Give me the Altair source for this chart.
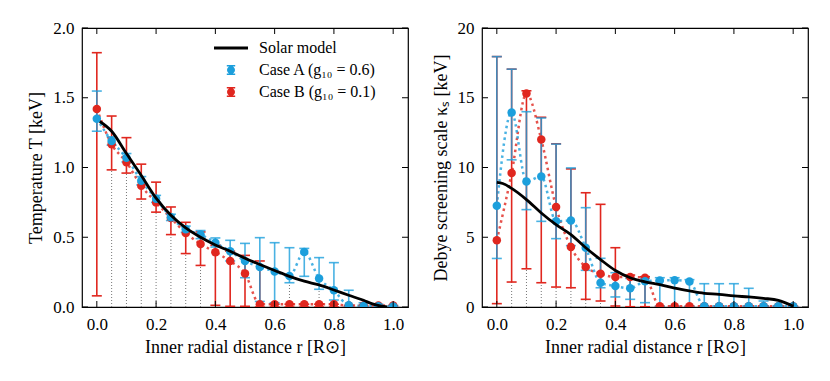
import altair as alt
import pandas as pd

# ---------------- data ----------------
r = [0.0, 0.05, 0.1, 0.15, 0.2, 0.25, 0.3, 0.35, 0.4, 0.45, 0.5,
     0.55, 0.6, 0.65, 0.7, 0.75, 0.8, 0.85, 0.9, 0.95, 1.0]

# Left panel: temperature T [keV]
A_T = [1.35, 1.19, 1.07, 0.905, 0.776, 0.643, 0.557, 0.52, 0.46, 0.40, 0.33,
       0.287, 0.255, 0.222, 0.394, 0.205, 0.12, 0.012, 0.007, 0.005, 0.003]
A_T_hi = [1.548, 1.22, 1.10, 0.935, 0.80, 0.665, 0.58, 0.548, 0.495, 0.478, 0.456,
          0.497, 0.461, 0.425, 0.42, 0.354, 0.318, 0.12, 0.03, 0.02, 0.01]
A_T_lo = [1.26, 1.16, 1.04, 0.875, 0.75, 0.62, 0.535, 0.49, 0.43, 0.33, 0.21,
          0.04, 0.03, 0.174, 0.22, 0.127, 0.05, 0.0, 0.0, 0.0, 0.0]
B_T = [1.42, 1.167, 1.038, 0.869, 0.75, 0.638, 0.531, 0.452, 0.393, 0.329, 0.24,
       0.02, 0.02, 0.02, 0.02, 0.02, 0.02, 0.01, 0.01, 0.01, 0.01]
B_T_hi = [1.823, 1.369, 1.214, 1.024, 0.895, 0.717, 0.607, 0.538, 0.443, 0.40, 0.37,
          0.33, 0.02, 0.02, 0.02, 0.02, 0.02, 0.01, 0.01, 0.01, 0.01]
B_T_lo = [0.08, 0.983, 0.96, 0.774, 0.68, 0.519, 0.383, 0.298, 0.012, 0.005, 0.005,
          0.0, 0.0, 0.0, 0.0, 0.0, 0.0, 0.0, 0.0, 0.0, 0.0]
sm_r_T = [0.01, 0.05, 0.1, 0.15, 0.2, 0.25, 0.3, 0.35, 0.4, 0.45, 0.5, 0.55,
          0.6, 0.65, 0.7, 0.75, 0.8, 0.85, 0.9, 0.93, 0.96, 0.98]
sm_T = [1.33, 1.26, 1.10, 0.943, 0.78, 0.657, 0.567, 0.50, 0.445, 0.40, 0.35, 0.305,
        0.262, 0.22, 0.185, 0.158, 0.122, 0.084, 0.048, 0.022, 0.006, 0.001]
dot_r_T = [0.05, 0.1, 0.15, 0.2, 0.25, 0.3, 0.35, 0.65, 0.75]
dot_top_T = [0.983, 0.96, 0.774, 0.68, 0.519, 0.383, 0.298, 0.174, 0.127]

# Right panel: Debye screening scale kappa_s [keV]
A_K = [7.26, 13.95, 9.0, 9.36, 6.14, 6.2, 4.25, 1.74, 1.5, 1.34, 1.84,
       1.9, 1.92, 1.82, 0.05, 0.05, 0.05, 0.05, 0.05, 0.05, 0.05]
A_K_hi = [17.95, 17.05, 14.0, 13.55, 11.68, 9.97, 7.12, 3.49, 2.46, 2.05, 2.05,
          2.1, 2.1, 1.96, 1.67, 1.67, 1.67, 1.34, 0.43, 0.1, 0.05]
A_K_lo = [3.48, 10.55, 6.98, 6.14, 4.9, 4.4, 2.63, 1.38, 0.72, 0.55, 0.31,
          0.05, 0.05, 0.05, 0.0, 0.0, 0.0, 0.0, 0.0, 0.0, 0.0]
B_K = [4.79, 9.6, 15.3, 12.0, 7.17, 4.3, 2.87, 2.39, 2.15, 2.15, 2.1,
       0.05, 0.05, 0.05, 0.05, 0.05, 0.05, 0.05, 0.05, 0.05, 0.05]
B_K_hi = [17.95, 17.05, 15.5, 13.6, 11.7, 9.9, 8.19, 7.36, 4.25, 2.29, 2.17,
          0.05, 0.05, 0.05, 0.05, 0.05, 0.05, 0.05, 0.05, 0.05, 0.05]
B_K_lo = [0.24, 1.79, 2.74, 1.74, 1.43, 1.38, 0.55, 0.43, 0.07, 0.02, 0.02,
          0.0, 0.0, 0.0, 0.0, 0.0, 0.0, 0.0, 0.0, 0.0, 0.0]
sm_r_K = [0.0, 0.02, 0.05, 0.1, 0.15, 0.2, 0.25, 0.3, 0.35, 0.4, 0.45, 0.5, 0.55,
          0.6, 0.65, 0.7, 0.75, 0.8, 0.85, 0.9, 0.95, 0.98, 1.0]
sm_K = [8.93, 8.85, 8.5, 7.7, 6.74, 5.9, 5.19, 4.25, 3.4, 2.62, 2.1, 1.8, 1.6,
        1.35, 1.15, 0.98, 0.91, 0.79, 0.72, 0.62, 0.48, 0.24, 0.05]
dot_r_K = [0.05, 0.1, 0.15, 0.2, 0.25, 0.3, 0.35]
dot_top_K = [1.79, 2.74, 1.74, 1.43, 1.38, 0.55, 0.43]

names = ["Solar model", "Case A (g₁₀ = 0.6)", "Case B (g₁₀ = 0.1)"]
x_ticks = [0.0, 0.2, 0.4, 0.6, 0.8, 1.0]
T_ticks = [0.0, 0.5, 1.0, 1.5, 2.0]
K_ticks = [0, 5, 10, 15, 20]

# ---------------- style ----------------
BLUE = "#1c9fdc"
RED = "#e0271f"
FONT = "Liberation Serif"
W, H = 326, 279
TICK = 6

LINE_PATH = "M-1.7,-0.15H1.7V0.15H-1.7Z"
ERR_PATH = ("M-0.075,-0.5H0.075V0.5H-0.075Z "
            "M-0.42,-0.5H0.42V-0.35H-0.42Z "
            "M-0.42,0.35H0.42V0.5H-0.42Z "
            "M0.4,0A0.4,0.4,0,1,1,-0.4,0A0.4,0.4,0,1,1,0.4,0Z")


def panel(A, A_lo, A_hi, B, B_lo, B_hi, sm_r, sm_v, dot_r, dot_top,
          ydom, yticks, yfmt, ytitle, with_legend):
    xs = alt.Scale(domain=[-0.05, 1.05], nice=False, zero=False)
    ys = alt.Scale(domain=ydom, nice=False, zero=False)
    xaxis = alt.Axis(values=x_ticks, format=".1f", labelPadding=9, titlePadding=6,
                     title="Inner radial distance r [R⊙]")
    yaxis = alt.Axis(values=yticks, format=yfmt, labelPadding=8, titlePadding=7,
                     title=ytitle)

    def X(f):
        return alt.X(f, type="quantitative", scale=xs, axis=xaxis)

    def Y(f):
        return alt.Y(f, type="quantitative", scale=ys, axis=yaxis)

    dfA = pd.DataFrame({"r": r, "v": A, "lo": A_lo, "hi": A_hi})
    dfB = pd.DataFrame({"r": r, "v": B, "lo": B_lo, "hi": B_hi})
    dfB["col"] = RED
    dfA["col"] = BLUE
    dfB["case"] = names[2]
    dfA["case"] = names[1]
    pts = pd.concat([dfB, dfA], ignore_index=True)
    dfsm = pd.DataFrame({"r": sm_r, "v": sm_v})
    dfdot = pd.DataFrame({"r": dot_r, "top": dot_top, "z": [0.0] * len(dot_r)})
    dfxt = pd.DataFrame({"t": x_ticks})
    dfyt = pd.DataFrame({"t": yticks})

    layers = []
    layers.append(alt.Chart(dfdot).mark_rule(color="#777777", strokeWidth=1,
                                             strokeDash=[1, 2], clip=True)
                  .encode(x=X("r"), y=Y("z"), y2="top"))
    for d, c in [(dfB, RED), (dfA, BLUE)]:
        layers.append(alt.Chart(d).mark_line(interpolate="monotone", color=c,
                                             strokeWidth=2.5, strokeDash=[2.5, 3.5],
                                             opacity=0.8, clip=True)
                      .encode(x=X("r"), y=Y("v")))
    for d, c, op in [(dfB, RED, 1.0), (dfA, BLUE, 0.8)]:
        layers.append(alt.Chart(d).mark_rule(color=c, strokeWidth=1.6, opacity=op, clip=True)
                      .encode(x=X("r"), y=Y("lo"), y2="hi"))
        for f in ["lo", "hi"]:
            layers.append(alt.Chart(d).mark_tick(orient="horizontal", size=10, thickness=1.6,
                                                 color=c, opacity=op, clip=True)
                          .encode(x=X("r"), y=Y(f)))
    layers.append(alt.Chart(pts).mark_circle(size=72, opacity=1, clip=True)
                  .encode(x=X("r"), y=Y("v"), color=alt.Color("col:N", scale=None)))
    layers.append(alt.Chart(dfsm).mark_line(color="black", strokeWidth=2.8,
                                            interpolate="monotone", clip=True)
                  .encode(x=X("r"), y=Y("v")))
    if with_legend:
        leg = dict(title=None, orient="none", legendX=139, legendY=10,
                   labelFont=FONT, labelFontSize=16, labelColor="black",
                   symbolSize=400, symbolStrokeWidth=0, rowPadding=4,
                   labelOffset=18, padding=0)
        layers.append(alt.Chart(pts).transform_filter("false")
                      .mark_point(filled=True, size=400, opacity=1, strokeWidth=0)
                      .encode(x=X("r"), y=Y("v"),
                              fill=alt.Fill("case:N", scale=alt.Scale(domain=names,
                                            range=["black", BLUE, RED]),
                                            legend=alt.Legend(**leg)),
                              shape=alt.Shape("case:N", scale=alt.Scale(domain=names,
                                              range=[LINE_PATH, ERR_PATH, ERR_PATH]),
                                              legend=alt.Legend(**leg))))
    # inward ticks on all four sides
    layers.append(alt.Chart(dfxt).mark_rule(color="black", strokeWidth=1)
                  .encode(x=X("t"), y=alt.value(H), y2=alt.value(H - TICK)))
    layers.append(alt.Chart(dfxt).mark_rule(color="black", strokeWidth=1)
                  .encode(x=X("t"), y=alt.value(0), y2=alt.value(TICK)))
    layers.append(alt.Chart(dfyt).mark_rule(color="black", strokeWidth=1)
                  .encode(y=Y("t"), x=alt.value(0), x2=alt.value(TICK)))
    layers.append(alt.Chart(dfyt).mark_rule(color="black", strokeWidth=1)
                  .encode(y=Y("t"), x=alt.value(W), x2=alt.value(W - TICK)))
    return alt.layer(*layers).properties(width=W, height=H)


left = panel(A_T, A_T_lo, A_T_hi, B_T, B_T_lo, B_T_hi, sm_r_T, sm_T,
             dot_r_T, dot_top_T, [0, 2], T_ticks, ".1f", "Temperature T [keV]", True)
right = panel(A_K, A_K_lo, A_K_hi, B_K, B_K_lo, B_K_hi, sm_r_K, sm_K,
              dot_r_K, dot_top_K, [0, 20], K_ticks, "d",
              "Debye screening scale κₛ [keV]", False)

chart = (alt.hconcat(left, right, spacing=21)
         .resolve_scale(fill="independent", shape="independent")
         .resolve_legend(fill="independent", shape="independent")
         .properties(padding={"left": 19, "top": 10, "right": 5, "bottom": 5},
                     background="white")
         .configure_axis(labelFont=FONT, titleFont=FONT, labelFontSize=17,
                         titleFontSize=18, titleFontWeight="normal",
                         labelColor="black", titleColor="black",
                         ticks=False, domain=False, grid=False)
         .configure_view(stroke="black", strokeWidth=1.2))

chart.save("out.html", embed_options={"renderer": "svg", "actions": False})
